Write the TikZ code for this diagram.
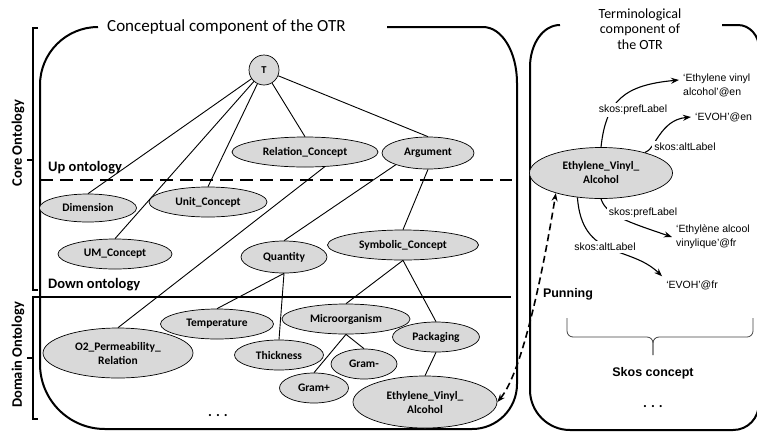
\documentclass[tikz,border=0pt]{standalone}
\usepackage{fontspec}
\setmainfont{Carlito}
\newfontfamily\arialfont{Liberation Sans}
\usetikzlibrary{shapes.geometric, arrows.meta}
\definecolor{conc}{RGB}{217,217,217}
\tikzset{cn/.style = {ellipse, draw, fill=conc, line width=0.7pt, inner sep=0pt, minimum height=30pt, align=center, font=\bfseries\fontsize{11.5}{14}\selectfont},
           tc/.style = {circle, draw, fill=conc, line width=0.7pt, inner sep=0pt, minimum size=30pt, font=\bfseries\fontsize{10.5}{12}\selectfont},
           wd/.style = {minimum width=#1pt},
           ed/.style = {line width=0.9pt},
           sa/.style = {line width=1.1pt},
           pn/.style = {line width=1.6pt, dash pattern=on 7pt off 4pt},
           sk/.style = {fill=white, inner sep=2pt, font=\arialfont\fontsize{10.5}{13}\selectfont},
           lit/.style = {inner sep=4pt, align=left, font=\arialfont\fontsize{10.5}{14}\selectfont},
           hd/.style = {inner sep=0pt, font=\bfseries\fontsize{14.5}{17}\selectfont},
           box/.style = {line width=2pt},
           brc/.style = {line width=0.8pt, draw=black!75, rounded corners=6pt}}

\begin{document}
\begin{tikzpicture}[x=1pt, y=-1pt, >={Stealth[length=8pt,width=6pt]}]
    \useasboundingbox (0,0) rectangle (757,432);
    % frames
    \draw[box] (387,27) -- (483,27) .. controls (502,27) and (517,52) .. (517,83) -- (517,384) .. controls (517,409) and (497,429) .. (472,429) -- (105,429) .. controls (69,429) and (40,400) .. (40,364) -- (40,85) .. controls (40,53) and (66,27) .. (98,27);
    \draw[box] (722,25) -- (738,25) .. controls (750,25) and (759,36) .. (759,48) -- (759,403) .. controls (759,418) and (748,430) .. (733,430) -- (570,430) .. controls (548,430) and (530,412) .. (530,390) -- (530,67) .. controls (530,44) and (543,25) .. (560,25);
    \draw[box] (38,28) -- (33,28) -- (33,290) -- (38,290);
    \draw[box] (33,160) -- (27,160);
    \draw[box] (40,297) -- (33,297) -- (33,419) -- (38,419);
    \draw[box] (33,358) -- (27,358);
    \draw[box, dash pattern=on 13pt off 7pt] (40,180) -- (512,180);
    \draw[box] (40,297) -- (511,297);

    \node[anchor=west, inner sep=0pt, font=\fontsize{17}{20}\selectfont] (ttl) at (107,27) {Conceptual component of the OTR};
    \node[align=center, inner sep=0pt, font=\fontsize{14}{15.5}\selectfont] (ttr) at (640,29) {Terminological\\component of\\the OTR};
    \node[hd, anchor=west] (up) at (48,168) {Up ontology};
    \node[hd, anchor=west] (down) at (48,285) {Down ontology};
    \node[hd, rotate=90] (core) at (18,143) {Core Ontology};
    \node[hd, rotate=90] (dom) at (18,355) {Domain Ontology};

    % concepts
    \node[tc] (T) at (264,70) {T};
    \node[cn, wd=146] (relc) at (305,152) {Relation\_Concept};
    \node[cn, wd=92, minimum height=32pt] (arg) at (428,153) {Argument};
    \node[cn, wd=97, minimum height=28pt] (dim) at (88,208) {Dimension};
    \node[cn, wd=118] (unit) at (208,202) {Unit\_Concept};
    \node[cn, wd=114] (umc) at (115,254) {UM\_Concept};
    \node[cn, wd=86, minimum height=32pt] (quant) at (284,257) {Quantity};
    \node[cn, wd=151] (symb) at (403,245) {Symbolic\_Concept};
    \node[cn, wd=113] (temp) at (217,324) {Temperature};
    \node[cn, wd=150, minimum height=50pt] (perm) at (118,353) {O2\_Permeability\_\\Relation};
    \node[cn, wd=89] (thick) at (279,355) {Thickness};
    \node[cn, wd=128] (micro) at (346,319) {Microorganism};
    \node[cn, wd=87] (pack) at (436,337) {Packaging};
    \node[cn, wd=66] (gneg) at (364,364) {Gram-};
    \node[cn, wd=69] (gpos) at (314,388) {Gram+};
    \node[cn, wd=144, minimum height=52pt] (evaa) at (425,402) {Ethylene\_Vinyl\_\\Alcohol};
    \node[hd] (dotl) at (218,416) {.\hspace{4pt}.\hspace{4pt}.};

    \draw[ed] (T) -- (dim.north);
    \draw[ed] (T) -- (umc.north);
    \draw[ed] (T) -- (unit.north);
    \draw[ed] (T) -- (relc.north);
    \draw[ed] (T) -- (arg.north);
    \draw[ed] (relc.-37) -- (perm.north);
    \draw[ed] (arg.-160) -- (quant.north);
    \draw[ed] (arg.south) -- (symb.north);
    \draw[ed] (quant.south) -- (temp.north);
    \draw[ed] (quant.south) -- (thick.north);
    \draw[ed] (symb.south) -- (micro.north);
    \draw[ed] (symb.south) -- (pack.north);
    \draw[ed] (micro.south) -- (gpos.north);
    \draw[ed] (micro.south) -- (gneg.north);
    \draw[ed] (pack.south) -- (evaa.north);

    % terms
    \node[cn, wd=143, minimum height=51pt] (evab) at (601,173) {Ethylene\_Vinyl\_\\Alcohol};
    \node[lit, anchor=west] (en1) at (679,85) {‘Ethylene vinyl\\alcohol’@en};
    \node[lit, anchor=west] (en2) at (691,117) {‘EVOH’@en};
    \node[lit, anchor=west] (fr1) at (672,237) {‘Ethylène alcool\\vinylique’@fr};
    \node[lit] (fr2) at (692,285) {‘EVOH’@fr};

    \draw[sa, ->] (evab.north) .. controls (606,100) and (625,85) .. ([yshift=5pt]en1.west);
    \draw[sa, ->] (evab.25) .. controls (655,150) and (660,120) .. (en2.west);
    \draw[sa, ->] (evab.south) .. controls (606,215) and (628,222) .. (fr1.west);
    \draw[sa, ->] (evab.-134) .. controls (582,260) and (630,245) .. (fr2.north west);
    \draw[pn, <->] (evaa.east) .. controls (520,375) and (540,290) .. (evab.-156);

    \node[sk] (pl1) at (633,110) {skos:prefLabel};
    \node[sk] (al1) at (685,147) {skos:altLabel};
    \node[sk] (pl2) at (643,213) {skos:prefLabel};
    \node[sk] (al2) at (605,247) {skos:altLabel};
    \node[fill=white, inner sep=3pt, font=\arialfont\bfseries\fontsize{12.5}{15}\selectfont] (pun) at (568,294) {Punning};

    \draw[brc] (567,318) -- (567,337) -- (653,337) -- (653,355);
    \draw[brc] (753,318) -- (753,337) -- (653,337) -- (653,355);
    \node[font=\arialfont\bfseries\fontsize{12.5}{15}\selectfont] (skc) at (653,373) {Skos concept};
    \node[hd] (dotr) at (653,407) {.\hspace{4pt}.\hspace{4pt}.};
\end{tikzpicture}
\end{document}
